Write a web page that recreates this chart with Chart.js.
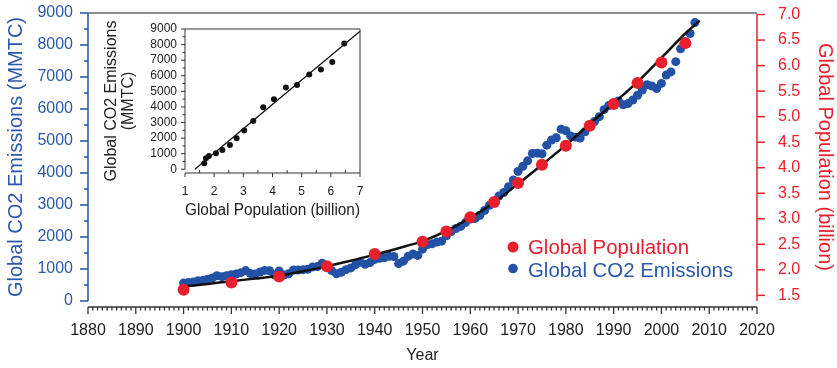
<!DOCTYPE html>
<html>
<head>
<meta charset="utf-8">
<script src="https://cdn.jsdelivr.net/npm/chart.js@4.4.0/dist/chart.umd.min.js"></script>
<style>
  html, body { margin: 0; padding: 0; background: #fff; overflow: hidden; }
  #wrap { position: relative; width: 837px; height: 368px; }
  #main { position: absolute; left: 0; top: 0; }
  #inset { position: absolute; left: 95px; top: 15px; }
</style>
</head>
<body>
<div id="wrap">
  <canvas id="main" width="837" height="368"></canvas>
  <canvas id="inset" width="280" height="210"></canvas>
</div>
<script>
// --- data ---
const firstYear = 1900;
// yearly global CO2 emissions (MMTC), 1900..2007
const emissions = [
  560, 575, 590, 630, 640, 680, 720, 790, 760, 790,
  820, 840, 885, 950, 860, 845, 905, 955, 945, 820,
  940, 810, 850, 970, 965, 980, 990, 1065, 1075, 1180,
  1070, 950, 850, 900, 980, 1035, 1135, 1210, 1150, 1200,
  1300, 1335, 1350, 1395, 1390, 1170, 1245, 1395, 1470, 1425,
  1620, 1760, 1790, 1840, 1870, 2040, 2170, 2265, 2330, 2450,
  2560, 2580, 2680, 2830, 2990, 3120, 3280, 3390, 3570, 3780,
  4050, 4210, 4380, 4610, 4620, 4600, 4870, 5030, 5100, 5370,
  5320, 5160, 5120, 5090, 5290, 5450, 5610, 5760, 5980, 6110,
  6150, 6250, 6130, 6170, 6280, 6430, 6590, 6760, 6720, 6640,
  6800, 7060, 7160, 7480, 7880, 8100, 8360, 8700
];

const popYears = [1900, 1910, 1920, 1930, 1940, 1950, 1955, 1960, 1965, 1970, 1975, 1980, 1985, 1990, 1995, 2000, 2005];
const population = [1.61, 1.75, 1.87, 2.07, 2.31, 2.55, 2.75, 3.03, 3.33, 3.70, 4.06, 4.43, 4.82, 5.25, 5.66, 6.06, 6.44];

// black trend curve through the emissions
const fitYears = [1900, 1905, 1910, 1915, 1920, 1925, 1930, 1935, 1940, 1945, 1950, 1955, 1960, 1965, 1970, 1975, 1980, 1985, 1990, 1995, 2000, 2005, 2008];
const fitValues = [450, 530, 620, 700, 790, 930, 1090, 1260, 1450, 1650, 1870, 2190, 2600, 3080, 3660, 4260, 4870, 5530, 6180, 6850, 7600, 8360, 8760];

// inset: emissions vs population
const insetPop = [1.66, 1.72, 1.82, 2.06, 2.28, 2.54, 2.77, 3.03, 3.34, 3.68, 4.05, 4.46, 4.84, 5.26, 5.66, 6.05, 6.46];
const insetEmis = [390, 710, 850, 1030, 1240, 1560, 1990, 2480, 3100, 3980, 4500, 5240, 5400, 6080, 6400, 6880, 8070];
const insetFitPop = [1.34, 7.0];
const insetFitEmis = [0, 8850];

const co2Ticks = [0, 1000, 2000, 3000, 4000, 5000, 6000, 7000, 8000, 9000];
const popTicks = [1.5, 2.0, 2.5, 3.0, 3.5, 4.0, 4.5, 5.0, 5.5, 6.0, 6.5, 7.0];
const insetXTicks = [1, 2, 3, 4, 5, 6, 7];

const blue = '#2251a6';
const blueText = '#2c58ad';
const red = '#e8202e';
const FONT = "'Liberation Sans', Arial, Helvetica, sans-serif";

Chart.defaults.font.family = FONT;
Chart.defaults.animation = false;

function seg(ctx, x1, y1, x2, y2) {
  ctx.beginPath(); ctx.moveTo(x1, y1); ctx.lineTo(x2, y2); ctx.stroke();
}

// fixed scale sizes, no extra label padding pushing the plot area around
function fixWidth(w) {
  return s => { s.width = w; s.paddingTop = 0; s.paddingBottom = 0; };
}
function fixHeight(h) {
  return s => { s.height = h; s.paddingLeft = 0; s.paddingRight = 0; };
}

// Igor-style detached axes with minor ticks
const mainAxes = {
  id: 'mainAxes',
  afterDraw(chart) {
    const { ctx, chartArea: a, scales: { x, y, y2 } } = chart;
    ctx.save();
    // top frame
    ctx.strokeStyle = '#666'; ctx.lineWidth = 1.5;
    seg(ctx, a.left, a.top, a.right, a.top);

    // left axis
    ctx.strokeStyle = blue; ctx.lineWidth = 1.5;
    const yBot = y.getPixelForValue(0), yTop = y.getPixelForValue(9000);
    seg(ctx, a.left, yTop, a.left, yBot);
    for (let v = 0; v <= 9000; v += 500) {
      const py = y.getPixelForValue(v);
      seg(ctx, a.left - (v % 1000 ? 4 : 8), py, a.left, py);
    }

    // right axis
    ctx.strokeStyle = red;
    const rTop = y2.getPixelForValue(7.0);
    seg(ctx, a.right, rTop, a.right, a.bottom);
    popTicks.forEach(v => {
      const py = y2.getPixelForValue(v);
      seg(ctx, a.right, py, a.right + 8, py);
    });

    // bottom axis
    ctx.strokeStyle = '#333'; ctx.lineWidth = 1.3;
    const xb = a.bottom + 6;
    seg(ctx, x.getPixelForValue(1880), xb, x.getPixelForValue(2020), xb);
    for (let yr = 1880; yr <= 2020; yr++) {
      const px = x.getPixelForValue(yr);
      seg(ctx, px, xb, px, xb + (yr % 10 ? 3.5 : 7));
    }
    ctx.restore();
  }
};

const inlineLegend = {
  id: 'inlineLegend',
  afterDraw(chart) {
    const { ctx, chartArea: a } = chart;
    const items = [
      { text: 'Global Population', color: red, text_color: red, r: 5.5, dy: 234, ty: 235.5 },
      { text: 'Global CO2 Emissions', color: blue, text_color: blueText, r: 4.8, dy: 255.5, ty: 258.8 }
    ];
    ctx.save();
    ctx.font = '20.4px ' + FONT;
    ctx.textBaseline = 'middle';
    items.forEach(it => {
      const cx = a.left + 425;
      ctx.fillStyle = it.color;
      ctx.beginPath(); ctx.arc(cx, a.top + it.dy, it.r, 0, Math.PI * 2); ctx.fill();
      ctx.fillStyle = it.text_color;
      ctx.fillText(it.text, cx + 15, a.top + it.ty);
    });
    ctx.restore();
  }
};

new Chart(document.getElementById('main'), {
  data: {
    datasets: [
      {
        type: 'scatter', label: 'Global Population', yAxisID: 'y2', order: 0,
        data: popYears.map((yr, i) => ({ x: yr, y: population[i] })),
        backgroundColor: red, pointBorderWidth: 0, pointRadius: 6, clip: false
      },
      {
        type: 'line', label: 'fit', yAxisID: 'y', order: 1,
        data: fitYears.map((yr, i) => ({ x: yr, y: fitValues[i] })),
        borderColor: '#111', borderWidth: 2.5, pointRadius: 0,
        cubicInterpolationMode: 'monotone', fill: false, clip: false
      },
      {
        type: 'scatter', label: 'Global CO2 Emissions', yAxisID: 'y', order: 2,
        data: emissions.map((v, i) => ({ x: firstYear + i, y: v })),
        backgroundColor: blue, pointBorderWidth: 0, pointRadius: 4.5, clip: false
      }
    ]
  },
  options: {
    responsive: false,
    layout: { padding: { top: 13, left: 0, right: 0, bottom: 0 } },
    plugins: { legend: { display: false }, tooltip: { enabled: false } },
    scales: {
      x: {
        type: 'linear', position: 'bottom', min: 1880, max: 2020,
        grid: { display: false, drawTicks: false }, border: { display: false },
        ticks: { stepSize: 10, autoSkip: false, maxRotation: 0, padding: 20, color: '#222', font: { size: 16 }, callback: v => String(v) },
        title: { display: true, text: 'Year', color: '#222', font: { size: 16 }, padding: { top: 0, bottom: 3 } },
        afterFit: fixHeight(67)
      },
      y: {
        type: 'linear', position: 'left', min: 0, max: 9000,
        grid: { display: false, drawTicks: false }, border: { display: false },
        afterBuildTicks: s => { s.ticks = co2Ticks.map(v => ({ value: v })); },
        ticks: { padding: 15, autoSkip: false, color: blueText, font: { size: 16 }, callback: v => String(v) },
        title: { display: true, text: 'Global CO2 Emissions (MMTC)', color: blueText, font: { size: 20 }, padding: { top: 4, bottom: 0 } },
        afterFit: fixWidth(88)
      },
      y2: {
        type: 'linear', position: 'right', min: 1.39, max: 7.03,
        grid: { display: false, drawTicks: false }, border: { display: false },
        afterBuildTicks: s => { s.ticks = popTicks.map(v => ({ value: v })); },
        ticks: { padding: 21, autoSkip: false, color: red, font: { size: 16 }, callback: v => v.toFixed(1) },
        title: { display: true, text: 'Global Population (billion)', color: red, font: { size: 20 }, padding: { top: 0, bottom: 0 } },
        afterFit: fixWidth(80)
      }
    }
  },
  plugins: [mainAxes, inlineLegend]
});

// --- inset ---
const insetAxes = {
  id: 'insetAxes',
  afterDraw(chart) {
    const { ctx, chartArea: a, scales: { x, y } } = chart;
    ctx.save();
    ctx.strokeStyle = '#333'; ctx.lineWidth = 1;
    seg(ctx, a.left, y.getPixelForValue(9000), a.left, y.getPixelForValue(0));
    seg(ctx, a.left, a.top, a.right, a.top);
    seg(ctx, a.right, a.top, a.right, a.bottom);
    seg(ctx, a.left, a.bottom, a.right, a.bottom);
    for (let v = 0; v <= 9000; v += 500) {
      const py = y.getPixelForValue(v);
      seg(ctx, a.left - (v % 1000 ? 2.5 : 4), py, a.left, py);
    }
    for (let v = 1; v <= 7; v += 0.5) {
      const px = x.getPixelForValue(v);
      if (v % 1) seg(ctx, px, a.bottom, px, a.bottom - 3);
      else seg(ctx, px, a.bottom, px, a.bottom + 4);
    }
    ctx.restore();
  }
};

new Chart(document.getElementById('inset'), {
  data: {
    datasets: [
      {
        type: 'scatter', order: 0,
        data: insetPop.map((p, i) => ({ x: p, y: insetEmis[i] })),
        backgroundColor: '#111', pointBorderWidth: 0, pointRadius: 3, clip: false
      },
      {
        type: 'line', order: 1,
        data: insetFitPop.map((p, i) => ({ x: p, y: insetFitEmis[i] })),
        borderColor: '#111', borderWidth: 1.3, pointRadius: 0, fill: false, clip: false
      }
    ]
  },
  options: {
    responsive: false,
    layout: { padding: { top: 14, right: 15, left: 0, bottom: 0 } },
    plugins: { legend: { display: false }, tooltip: { enabled: false } },
    scales: {
      x: {
        type: 'linear', min: 1, max: 7,
        grid: { display: false, drawTicks: false }, border: { display: false },
        afterBuildTicks: s => { s.ticks = insetXTicks.map(v => ({ value: v })); },
        ticks: { padding: 11, autoSkip: false, color: '#222', font: { size: 12 }, maxRotation: 0, callback: v => String(v) },
        title: { display: true, text: 'Global Population (billion)', color: '#222', font: { size: 16 }, padding: { top: 0, bottom: 5 } },
        afterFit: fixHeight(52)
      },
      y: {
        type: 'linear', min: -240, max: 9000,
        grid: { display: false, drawTicks: false }, border: { display: false },
        afterBuildTicks: s => { s.ticks = co2Ticks.map(v => ({ value: v })); },
        ticks: { padding: 8, autoSkip: false, color: '#222', font: { size: 12 }, callback: v => String(v) },
        title: { display: true, text: ['Global CO2 Emissions', '(MMTC)'], color: '#222', font: { size: 16, lineHeight: 1.05 }, padding: { top: 8, bottom: 0 } },
        afterFit: fixWidth(90)
      }
    }
  },
  plugins: [insetAxes]
});
</script>
</body>
</html>
